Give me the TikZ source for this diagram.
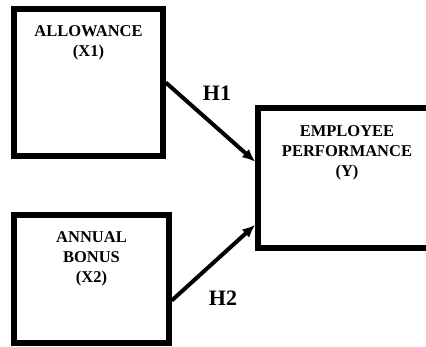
\documentclass[tikz,border=0pt]{standalone}
\usepackage{fontspec}
\setmainfont{Liberation Serif}
\usepackage{tikz}
\usetikzlibrary{positioning,arrows.meta}
\tikzset{
    x=1pt,
    y=-1pt,
    box/.style = {
        draw,
        shape=rectangle,
        line width=5.5pt
    },
    boxtext/.style = {
        align=center,
        inner sep=0pt,
        font=\bfseries\fontsize{16.5}{20}\selectfont
    },
    hyp/.style = {
        font=\bfseries\fontsize{22}{24}\selectfont
    },
    link/.style = {
        draw,
        line width=4pt,
        -{Latex[length=13pt,width=11pt]}
    },
}
\begin{document}
\begin{tikzpicture}
                \useasboundingbox (0,0) rectangle (426,347);
                \begin{scope}
                \clip (0,0) rectangle (426,347);
                \node[box, minimum width=149pt, minimum height=147pt] (allow) at (88.5,82.5) {};
                \node[box, minimum width=155pt, minimum height=128pt] (bonus) at (91.5,279) {};
                \node[box, minimum width=178pt, minimum height=140pt] (perf) at (347,178) {};
                \end{scope}

                \node[boxtext, below=19pt of allow.north] (allowtxt) {ALLOWANCE\\(X1)};
                \node[boxtext, below=19pt of bonus.north] (bonustxt) {ANNUAL\\BONUS\\(X2)};
                \node[boxtext, below=20pt of perf.north] (perftxt) {EMPLOYEE\\PERFORMANCE\\(Y)};

                \path[link] (allow.east) -- (perf.170);
                \path[link] (bonus.345) -- (perf.207);

                \node[hyp] (h1) at (217,93) {H1};
                \node[hyp] (h2) at (223,298) {H2};
\end{tikzpicture}
\end{document}
